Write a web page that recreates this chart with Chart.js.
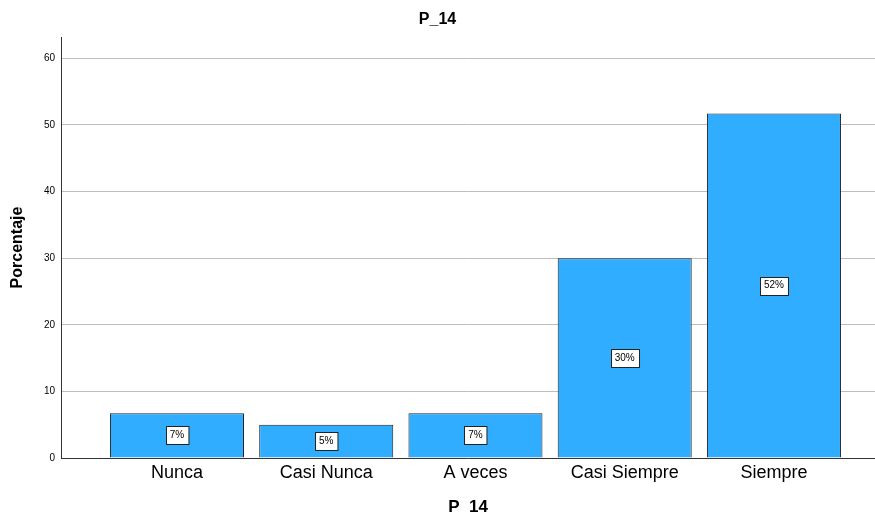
<!DOCTYPE html>
<html>
<head>
<meta charset="utf-8">
<script src="https://cdn.jsdelivr.net/npm/chart.js@4"></script>
<style>
  html, body { margin: 0; padding: 0; background: #fff; }
  #wrap { width: 875px; height: 513px; position: relative; }
</style>
</head>
<body>
<div id="wrap"><canvas id="chart-p14"></canvas></div>
<script>
// ---- Data ----
const categories  = ['Nunca', 'Casi Nunca', 'A veces', 'Casi Siempre', 'Siempre'];
const percentages = [6.7, 5.0, 6.7, 30.0, 51.7];
const yTicks      = [0, 10, 20, 30, 40, 50, 60];

const FONT = "'Liberation Sans', Arial, sans-serif";
Chart.defaults.font.family = FONT;
Chart.defaults.color = '#000';

// ---- Boxed percentage labels in the middle of each bar ----
const boxLabels = {
  id: 'boxLabels',
  afterDatasetsDraw(chart) {
    const ctx = chart.ctx;
    const meta = chart.getDatasetMeta(0);
    ctx.save();
    ctx.font = '10px ' + FONT;
    ctx.textAlign = 'center';
    ctx.textBaseline = 'middle';
    meta.data.forEach((bar, i) => {
      const { x, y, base } = bar.getProps(['x', 'y', 'base'], true);
      const cy = (y + base) / 2;
      const txt = Math.round(percentages[i]) + '%';
      const w = ctx.measureText(txt).width + 8;
      const h = 18;
      const bx = Math.round(x - w / 2) + 0.5;
      const by = Math.round(cy - h / 2) + 0.5;
      ctx.fillStyle = '#fff';
      ctx.fillRect(bx, by, w, h);
      ctx.strokeStyle = '#222';
      ctx.lineWidth = 1;
      ctx.strokeRect(bx, by, w, h);
      ctx.fillStyle = '#000';
      ctx.fillText(txt, x, cy);
    });
    ctx.restore();
  }
};

new Chart(document.getElementById('chart-p14'), {
  type: 'bar',
  data: {
    datasets: [{
      label: 'P_14',
      data: percentages.map((v, i) => ({ x: i, y: v })),
      backgroundColor: '#31adff',
      borderColor: '#222',
      borderWidth: 1,
      barPercentage: 1,
      categoryPercentage: 0.898,
    }]
  },
  options: {
    responsive: true,
    maintainAspectRatio: false,
    animation: false,
    layout: { padding: 0 },
    plugins: {
      legend: { display: false },
      tooltip: { enabled: false },
      title: {
        display: true,
        text: 'P_14',
        font: { size: 16, weight: 'bold', family: FONT, lineHeight: 1.2 },
        color: '#000',
        padding: { top: 10, bottom: 7.8 }
      }
    },
    scales: {
      x: {
        type: 'linear',
        offset: false,
        min: -0.777,
        max: 4.677,
        afterBuildTicks: (s) => { s.ticks = categories.map((_, i) => ({ value: i })); },
        afterFit: (s) => { s.height = 55; },
        grid: { display: false, drawTicks: false },
        border: { display: true, color: '#333', width: 1 },
        ticks: {
          padding: 4,
          autoSkip: false,
          maxRotation: 0,
          font: { size: 18, family: FONT },
          color: '#000',
          callback: (v) => categories[v] ?? ''
        },
        title: {
          display: true,
          text: 'P_14',
          font: { size: 17, weight: 'bold', family: FONT, lineHeight: 0.7 },
          color: '#000',
          padding: 0
        }
      },
      y: {
        min: 0,
        max: 63.2,
        afterBuildTicks: (s) => { s.ticks = yTicks.map(v => ({ value: v })); },
        afterFit: (s) => { s.width = 61; },
        grid: { color: '#bdbdbd', lineWidth: 1, drawTicks: false },
        border: { display: true, color: '#333', width: 1 },
        ticks: {
          padding: 6,
          font: { size: 10, family: FONT },
          color: '#000'
        },
        title: {
          display: true,
          text: 'Porcentaje',
          font: { size: 16, weight: 'bold', family: FONT },
          color: '#000',
          padding: { top: 8, bottom: 0 }
        }
      }
    }
  },
  plugins: [boxLabels]
});
</script>
</body>
</html>
